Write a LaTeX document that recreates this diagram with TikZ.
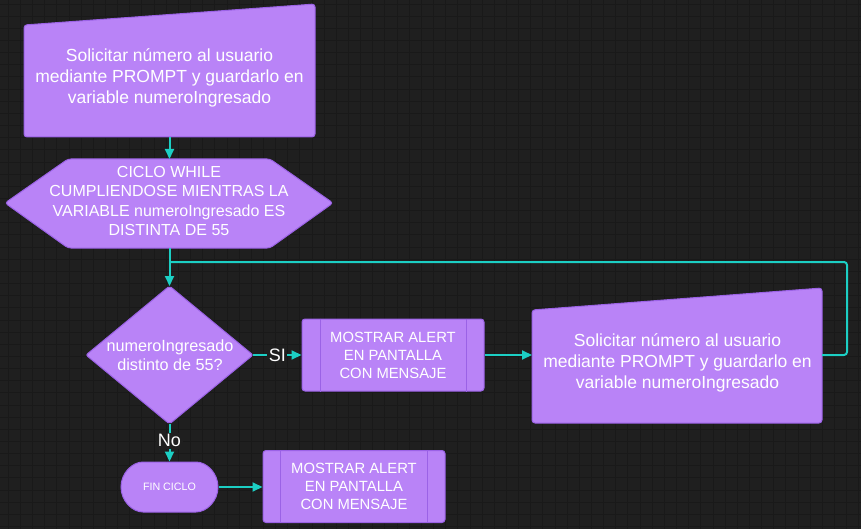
\documentclass[tikz,border=0pt]{standalone}
\usepackage{fontspec}
\setmainfont{Liberation Sans}
\usetikzlibrary{arrows.meta,shapes.geometric,shapes.misc}
\definecolor{bgc}{HTML}{1F1F1F}
\definecolor{gridc}{HTML}{191919}
\definecolor{shapefill}{HTML}{B983F7}
\definecolor{shapeedge}{HTML}{9B62E6}
\definecolor{tealc}{HTML}{1CCFC4}
\begin{document}
\begin{tikzpicture}[x=1pt,y=-1pt,
  shp/.style={fill=shapefill,draw=shapeedge,line width=1pt,rounded corners=3pt},
  txt/.style={text=white,align=center,font=\fontsize{17.5}{21}\selectfont,inner sep=0pt},
  boxnode/.style={shp,text=white,align=center,font=\fontsize{14.8}{18}\selectfont,
    minimum width=182pt,minimum height=72pt,inner sep=0pt},
  connline/.style={draw=tealc,line width=2pt},
  arr/.style={connline,-{Triangle[length=10pt,width=9pt]}},
  lbl/.style={fill=bgc,text=white,font=\fontsize{18}{20}\selectfont,inner sep=1.5pt}]
\useasboundingbox (0,0) rectangle (861,529);
\fill[bgc] (0,0) rectangle (861,529);
\foreach \gx in {8.2,20.35,...,861} \draw[gridc,line width=0.8pt] (\gx,0) -- (\gx,529);
\foreach \gy in {4,16.15,...,529} \draw[gridc,line width=0.8pt] (0,\gy) -- (861,\gy);

% manual input 1
\draw[shp] (24,25) -- (315,4) -- (315,137) -- (24,137) -- cycle;
\node[txt] (in1) at (169.5,78) {Solicitar número al usuario\\mediante PROMPT y guardarlo en\\variable numeroIngresado};
\coordinate (in1s) at (169.5,137);

% hexagon
\draw[shp] (5,203) -- (68,159) -- (270,159) -- (333,203) -- (270,248) -- (68,248) -- cycle;
\node[txt,font=\fontsize{16}{19.4}\selectfont] (loop) at (169,201) {CICLO WHILE\\CUMPLIENDOSE MIENTRAS LA\\VARIABLE numeroIngresado ES\\DISTINTA DE 55};
\coordinate (loopn) at (169.5,159);
\coordinate (loops) at (169.5,248);

% decision
\coordinate (decn) at (169.5,286);
\coordinate (dece) at (253,355);
\coordinate (decs) at (169.5,424);
\coordinate (decw) at (86,355);
\draw[shp,rounded corners=2pt] (decn) -- (dece) -- (decs) -- (decw) -- cycle;
\node[txt,font=\fontsize{16.2}{19}\selectfont] (dec) at (170,355.5) {numeroIngresado\\distinto de 55?};
\coordinate (join) at (169.5,262);

% alert box 1
\node[boxnode] (al1) at (393,355) {MOSTRAR ALERT\\EN PANTALLA\\CON MENSAJE};
\draw[shapeedge,line width=1pt] ([xshift=19pt]al1.north west) -- ([xshift=19pt]al1.south west);
\draw[shapeedge,line width=1pt] ([xshift=-18pt]al1.north east) -- ([xshift=-18pt]al1.south east);

% manual input 2
\draw[shp] (532,310) -- (822,288) -- (822,423) -- (532,423) -- cycle;
\node[txt] (in2) at (677.5,363) {Solicitar número al usuario\\mediante PROMPT y guardarlo en\\variable numeroIngresado};
\coordinate (in2w) at (532,355);
\coordinate (in2e) at (822,355);
\coordinate (lc1) at (847,355);
\coordinate (lc2) at (847,262);

% end loop
\node[shp,shape=rounded rectangle,minimum width=97pt,minimum height=50pt,inner sep=0pt,
  text=white,font=\fontsize{10.7}{12}\selectfont] (fin) at (169.5,487) {FIN CICLO};

% alert box 2
\node[boxnode] (al2) at (354,486.5) {MOSTRAR ALERT\\EN PANTALLA\\CON MENSAJE};
\draw[shapeedge,line width=1pt] ([xshift=18pt]al2.north west) -- ([xshift=18pt]al2.south west);
\draw[shapeedge,line width=1pt] ([xshift=-18pt]al2.north east) -- ([xshift=-18pt]al2.south east);

% connectors
\draw[arr] (in1s) -- (loopn);
\draw[arr] (loops) -- (decn);
\draw[connline,rounded corners=3pt] (in2e) -- (lc1) -- (lc2) -- (join);
\draw[arr] (dece) -- (al1.west) node[lbl,pos=0.5] {SI};
\draw[arr] (al1.east |- in2w) -- (in2w);
\draw[arr] (decs) -- (fin.north) node[lbl,pos=0.45] {No};
\draw[arr] (fin.east) -- (al2.west |- fin.east);
\end{tikzpicture}
\end{document}
